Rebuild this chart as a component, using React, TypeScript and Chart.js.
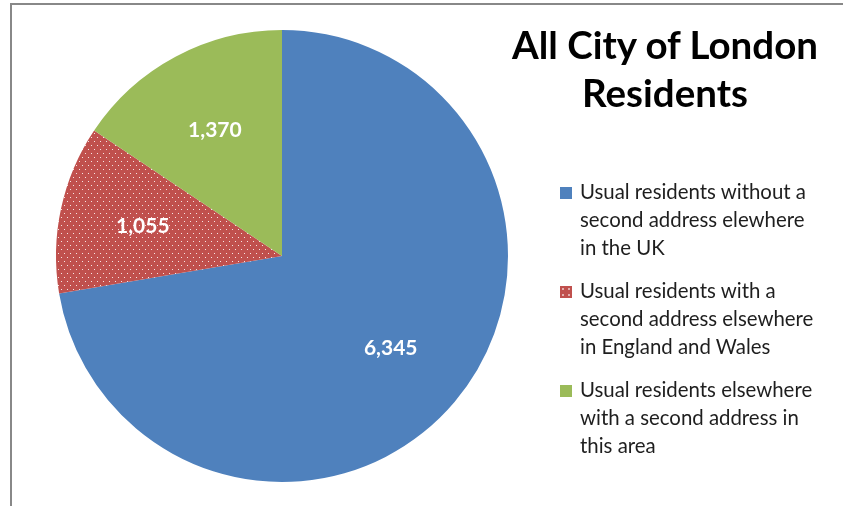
import React, { useEffect, useRef } from "react";
import { Chart, registerables } from "chart.js";

Chart.register(...registerables);

const titleLines = ["All City of London", "Residents"];
const legendLines: string[][] = [
  ["Usual residents without a", "second address elewhere", "in the UK"],
  ["Usual residents with a", "second address elsewhere", "in England and Wales"],
  ["Usual residents elsewhere", "with a second address in", "this area"],
];
const categories = legendLines.map((l) => l.join(" "));
const values = [6345, 1055, 1370];
const colors = ["#4F81BD", "#C0504D", "#9BBB59"];

function makeDotPattern(base: string): CanvasPattern | string {
  const c = document.createElement("canvas");
  c.width = 6;
  c.height = 8;
  const ctx = c.getContext("2d");
  if (!ctx) return base;
  ctx.fillStyle = base;
  ctx.fillRect(0, 0, 6, 8);
  ctx.fillStyle = "rgba(255,255,255,0.85)";
  ctx.fillRect(1, 1, 1, 1);
  ctx.fillRect(4, 5, 1, 1);
  return ctx.createPattern(c, "repeat") || base;
}

const labelPlugin = {
  id: "sliceLabels",
  afterDatasetsDraw(chart: any) {
    const ctx = chart.ctx;
    const meta = chart.getDatasetMeta(0);
    ctx.save();
    ctx.fillStyle = "#ffffff";
    ctx.font = "bold 21px Lato";
    ctx.textAlign = "center";
    ctx.textBaseline = "middle";
    meta.data.forEach((arc: any, i: number) => {
      const p = arc.getProps(["x", "y", "startAngle", "endAngle", "outerRadius"], true);
      const a = (p.startAngle + p.endAngle) / 2;
      const r = p.outerRadius * 0.63;
      const v = chart.data.datasets[0].data[i] as number;
      ctx.fillText(v.toLocaleString("en-GB"), p.x + Math.cos(a) * r, p.y + Math.sin(a) * r);
    });
    ctx.restore();
  },
};

export default function App() {
  const ref = useRef<HTMLCanvasElement>(null);
  useEffect(() => {
    if (!ref.current) return;
    const bg = colors.map((c, i) => (i === 1 ? makeDotPattern(c) : c));
    const chart = new Chart(ref.current, {
      type: "pie",
      data: {
        labels: categories,
        datasets: [
          {
            data: values,
            backgroundColor: bg as any,
            borderWidth: 0,
          },
        ],
      },
      options: {
        animation: false,
        responsive: false,
        layout: { padding: { left: 56, right: 335, top: 30, bottom: 24 } },
        plugins: {
          legend: { display: false },
          tooltip: { enabled: false },
          title: { display: false },
        },
      },
      plugins: [labelPlugin],
    });
    return () => chart.destroy();
  }, []);

  return (
    <div
      style={{
        position: "fixed",
        left: 0,
        top: 0,
        width: 843,
        height: 506,
        overflow: "hidden",
        background: "#ffffff",
      }}
    >
      <div
        style={{
          position: "absolute",
          left: 10,
          top: 3,
          width: 832,
          height: 520,
          borderTop: "2px solid #888888",
          borderLeft: "2px solid #888888",
        }}
      />
      <canvas ref={ref} width={843} height={506} style={{ position: "absolute", left: 0, top: 0 }} />
      <div
        style={{
          position: "absolute",
          left: 495,
          top: 20,
          width: 340,
          textAlign: "center",
          fontFamily: "Lato",
          fontWeight: 700,
          fontSize: 38.5,
          lineHeight: "48px",
          color: "#000000",
          whiteSpace: "nowrap",
        }}
      >
        {titleLines.map((t, i) => (
          <div key={i}>{t}</div>
        ))}
      </div>
      {legendLines.map((lines, i) => (
        <div
          key={i}
          style={{
            position: "absolute",
            left: 560,
            top: 177 + i * 99,
            fontFamily: "Lato",
            fontSize: 20.4,
            lineHeight: "28px",
            color: "#1e1e1e",
            whiteSpace: "nowrap",
          }}
        >
          <div
            style={{
              position: "absolute",
              left: 0,
              top: 10,
              width: 12,
              height: 12,
              backgroundColor: colors[i],
              backgroundImage:
                i === 1 ? "radial-gradient(rgba(255,255,255,0.85) 0.6px, transparent 0.9px)" : "none",
              backgroundSize: "6px 6px",
            }}
          />
          <div style={{ marginLeft: 20 }}>
            {lines.map((t, j) => (
              <div key={j}>{t}</div>
            ))}
          </div>
        </div>
      ))}
    </div>
  );
}
